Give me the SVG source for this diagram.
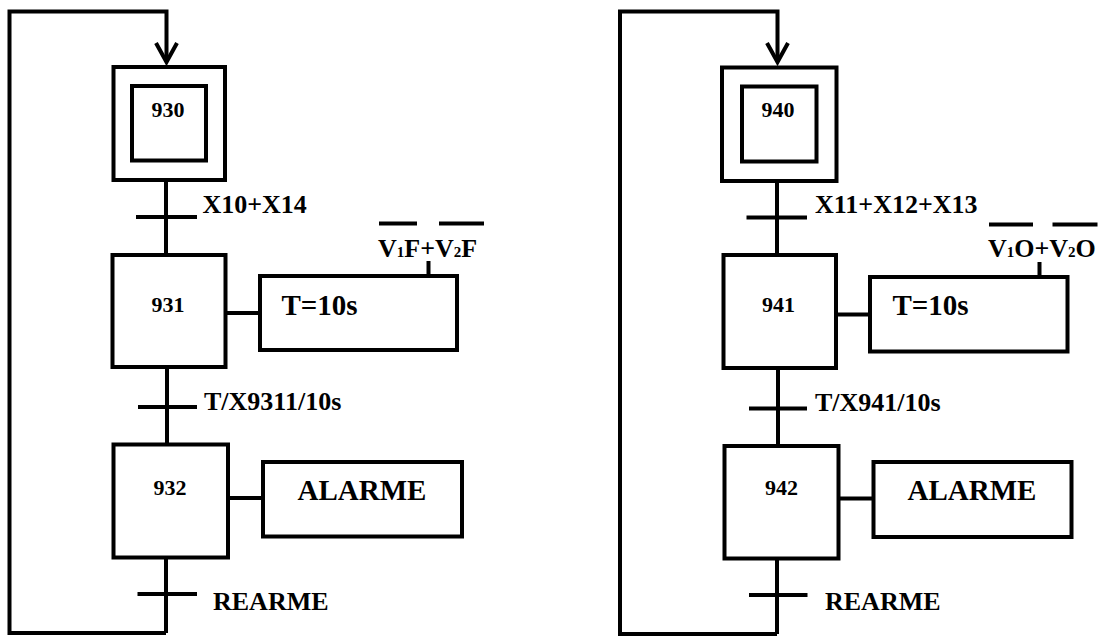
<svg xmlns="http://www.w3.org/2000/svg" width="1099" height="637" viewBox="0 0 1099 637">
<style>
  .box { fill: #fff; stroke: #000; stroke-width: 4; }
  .ln { fill: none; stroke: #000; stroke-width: 4; stroke-linejoin: miter; }
  .bar { stroke: #000; stroke-width: 4; }
  .t { font-family: "Liberation Serif", "Times New Roman", serif; font-weight: bold; fill: #000; }
  .num { font-size: 22px; text-anchor: middle; }
  .lbl { font-size: 26px; }
  .act { font-size: 29px; }
  .sub { font-size: 15px; }
</style>
<defs>
  <marker id="arr" markerUnits="userSpaceOnUse" markerWidth="40" markerHeight="40" refX="0" refY="0" orient="auto" overflow="visible">
    <path d="M-19,-10.5 L0,0 L-19,10.5" fill="none" stroke="#000" stroke-width="4"/>
  </marker>
</defs>

<!-- ============ LEFT GRAFCET ============ -->
<g id="connectors-left">
  <polyline class="ln" points="166,633 9.5,633 9.5,11.5 166.5,11.5 166.5,62" marker-end="url(#arr)"/>
  <line class="ln" x1="166" y1="180" x2="166" y2="255"/>
  <line class="ln" x1="167" y1="367" x2="167" y2="444"/>
  <line class="ln" x1="166" y1="558" x2="166" y2="633"/>
  <line class="ln" x1="226" y1="313" x2="260" y2="313"/>
  <line class="ln" x1="228" y1="498" x2="263" y2="498"/>
  <line class="ln" x1="428.5" y1="261" x2="428.5" y2="276"/>
</g>

<g id="step930">
  <rect class="box" x="113.5" y="67" width="111.5" height="113"/>
  <rect class="box" x="132" y="86" width="74" height="74.5"/>
  <text class="t num" x="168" y="117" font-size="21">930</text>
</g>

<g id="trans930">
  <line class="bar" x1="136" y1="217" x2="197" y2="217"/>
  <text class="t lbl" x="202.5" y="213">X10+X14</text>
</g>

<g id="step931">
  <rect class="box" x="112.5" y="255" width="113" height="112"/>
  <text class="t num" x="168" y="312">931</text>
</g>

<g id="action931">
  <rect class="box" x="260" y="276" width="197" height="74"/>
  <text class="t act" x="281.5" y="315">T=10s</text>
  <text class="t lbl" x="378" y="256.5">V<tspan class="sub">1</tspan>F+V<tspan class="sub">2</tspan>F</text>
  <line class="bar" x1="379" y1="223.5" x2="417" y2="223.5"/>
  <line class="bar" x1="439" y1="223.5" x2="484" y2="223.5"/>
</g>

<g id="trans931">
  <line class="bar" x1="138" y1="407" x2="197" y2="407"/>
  <text class="t lbl" x="204" y="410">T/X9311/10s</text>
</g>

<g id="step932">
  <rect class="box" x="113.5" y="444.5" width="114.5" height="113"/>
  <text class="t num" x="170" y="495">932</text>
</g>

<g id="action932">
  <rect class="box" x="263" y="462" width="199" height="74.5"/>
  <text class="t act" x="297.5" y="500">ALARME</text>
</g>

<g id="trans932">
  <line class="bar" x1="137.5" y1="594" x2="197" y2="594"/>
  <text class="t lbl" x="213" y="610">REARME</text>
</g>

<!-- ============ RIGHT GRAFCET ============ -->
<g id="connectors-right">
  <polyline class="ln" points="777,634 620,634 620,11.5 777.5,11.5 777.5,62" marker-end="url(#arr)"/>
  <line class="ln" x1="777" y1="181" x2="777" y2="255"/>
  <line class="ln" x1="778" y1="368" x2="778" y2="446"/>
  <line class="ln" x1="777" y1="558" x2="777" y2="634"/>
  <line class="ln" x1="836" y1="314.5" x2="870" y2="314.5"/>
  <line class="ln" x1="838" y1="498.5" x2="873.5" y2="498.5"/>
  <line class="ln" x1="1039.5" y1="262" x2="1039.5" y2="277"/>
</g>

<g id="step940">
  <rect class="box" x="722" y="67.5" width="114.5" height="113.5"/>
  <rect class="box" x="742" y="86.5" width="74.5" height="75"/>
  <text class="t num" x="778" y="117" font-size="21">940</text>
</g>

<g id="trans940">
  <line class="bar" x1="746.5" y1="217.5" x2="807" y2="217.5"/>
  <text class="t lbl" x="815" y="213">X11+X12+X13</text>
</g>

<g id="step941">
  <rect class="box" x="723.5" y="255" width="112.5" height="113"/>
  <text class="t num" x="778.5" y="312">941</text>
</g>

<g id="action941">
  <rect class="box" x="870" y="277" width="197.5" height="74.5"/>
  <text class="t act" x="892.5" y="315">T=10s</text>
  <text class="t lbl" x="988" y="256.5">V<tspan class="sub">1</tspan>O+V<tspan class="sub">2</tspan>O</text>
  <line class="bar" x1="989" y1="224.5" x2="1033" y2="224.5"/>
  <line class="bar" x1="1052.5" y1="224.5" x2="1097.5" y2="224.5"/>
</g>

<g id="trans941">
  <line class="bar" x1="749" y1="408.5" x2="807" y2="408.5"/>
  <text class="t lbl" x="815" y="410.5">T/X941/10s</text>
</g>

<g id="step942">
  <rect class="box" x="724.5" y="446" width="114" height="112.5"/>
  <text class="t num" x="781.5" y="495">942</text>
</g>

<g id="action942">
  <rect class="box" x="873.5" y="462" width="198" height="75"/>
  <text class="t act" x="907.5" y="500">ALARME</text>
</g>

<g id="trans942">
  <line class="bar" x1="749" y1="595" x2="807.5" y2="595"/>
  <text class="t lbl" x="825" y="610">REARME</text>
</g>
</svg>
